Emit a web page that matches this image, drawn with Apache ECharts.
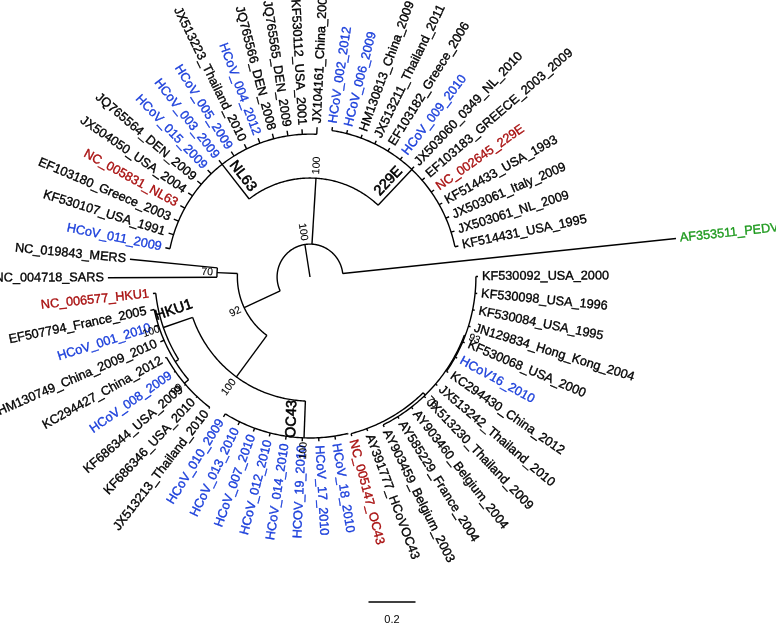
<!DOCTYPE html>
<html>
<head>
<meta charset="utf-8">
<script src="https://cdn.jsdelivr.net/npm/echarts@6/dist/echarts.min.js"></script>
<style>
  html, body { margin: 0; padding: 0; background: #fff; }
  #chart { width: 776px; height: 639px; }
</style>
</head>
<body>
<div id="chart"></div>
<script>
// tips in angular order (counter-clockwise), starting from the outgroup
const leafNames = [
  'AF353511_PEDV',
  'KF514431_USA_1995', 'JX503061_NL_2009', 'JX503061_Italy_2009', 'KF514433_USA_1993',
  'NC_002645_229E', 'EF103183_GREECE_2003_2009', 'JX503060_0349_NL_2010', 'HCoV_009_2010',
  'EF103182_Greece_2006', 'JX513211_Thailand_2011', 'HM130813_China_2009', 'HCoV_006_2009',
  'HCoV_002_2012',
  'JX104161_China_2008', 'KF530112_USA_2001', 'JQ765565_DEN_2009', 'JQ765566_DEN_2008',
  'HCoV_004_2012', 'JX513223_Thailand_2010', 'HCoV_005_2009', 'HCoV_003_2009', 'HCoV_015_2009',
  'JQ765564_DEN_2009', 'JX504050_USA_2004', 'NC_005831_NL63', 'EF103180_Greece_2003',
  'KF530107_USA_1991', 'HCoV_011_2009',
  'NC_019843_MERS', 'NC_004718_SARS',
  'NC_006577_HKU1', 'EF507794_France_2005', 'HCoV_001_2010', 'HM130749_China_2009_2010',
  'KC294427_China_2012', 'HCoV_008_2009', 'KF686344_USA_2009', 'KF686346_USA_2010',
  'JX513213_Thailand_2010',
  'HCoV_010_2009', 'HCoV_013_2010', 'HCoV_007_2010', 'HCoV_012_2010', 'HCoV_014_2010',
  'HCOV_19_2010', 'HCoV_17_2010', 'HCoV_18_2010', 'NC_005147_OC43', 'AY391777_HCoVOC43',
  'AY903459_Belgium_2003', 'AY585229_France_2004', 'AY903460_Belgium_2004',
  'JX513230_Thailand_2009', 'JX513242_Thailand_2010', 'KC294430_China_2012', 'HCoV16_2010',
  'KF530068_USA_2000', 'JN129834_Hong_Kong_2004', 'KF530084_USA_1995', 'KF530098_USA_1996',
  'KF530092_USA_2000'
];
const leafParent = [
  'root',
  'C229E', 'C229E', 'C229E', 'C229E', 'C229E', 'C229E', 'C229E', 'C229E', 'C229E', 'C229E',
  'C229E', 'C229E', 'C229E',
  'CNL63', 'CNL63', 'CNL63', 'CNL63', 'CNL63', 'CNL63', 'CNL63', 'CNL63', 'CNL63', 'CNL63',
  'CNL63', 'CNL63', 'CNL63', 'CNL63', 'CNL63',
  'MS', 'MS',
  'CHKU1', 'H2', 'H2', 'H2', 'H3', 'H3', 'H3', 'H3', 'H3',
  'COC43', 'COC43', 'COC43', 'COC43', 'COC43', 'COC43', 'COC43', 'COC43',
  'O2', 'O2', 'O3', 'O3', 'O3', 'O3', 'O3', 'O4', 'O4', 'O4', 'O4', 'O4', 'O4', 'O4'
];
// distance from root (substitutions/site)
const leafDist = [
  1.566,
  0.645, 0.645, 0.645, 0.645, 0.645, 0.645, 0.645, 0.645, 0.645, 0.645, 0.645, 0.645, 0.645,
  0.638, 0.630, 0.630, 0.630, 0.630, 0.630, 0.630, 0.630, 0.630, 0.630, 0.630, 0.630, 0.630,
  0.630, 0.628,
  0.770, 0.860,
  0.672, 0.694, 0.694, 0.694, 0.706, 0.706, 0.706, 0.706, 0.706,
  0.700, 0.700, 0.700, 0.700, 0.700, 0.700, 0.700, 0.700,
  0.700, 0.700, 0.712, 0.712, 0.712, 0.712, 0.712, 0.715, 0.715, 0.715, 0.715, 0.715, 0.715, 0.715
];

// internal nodes (angle in tip-order units)
const nodeIds     = ['root', 'A', 'C229E', 'CNL63', 'B', 'MS', 'HO', 'CHKU1', 'H2', 'H3', 'COC43', 'O2', 'O3', 'O4'];
const nodeParent  = [null, 'root', 'A', 'A', 'root', 'B', 'B', 'HO', 'CHKU1', 'H2', 'HO', 'COC43', 'O2', 'O3'];
const nodeDist    = [0.140, 0.421, 0.630, 0.608, 0.309, 0.396, 0.528, 0.660, 0.677, 0.700, 0.685, 0.689, 0.702, 0.706];
const nodeAngle   = [16.0, 13.87, 6.98, 21.0, 34.27, 29.5, 39.2, 33.24, 35.5, 36.9, 45.1, 47.8, 53.1, 57.4];
const nodeSupport = [100, 100, null, null, 92, 70, 100, 100, null, 99, 100, null, 76, 93];

const cladeNodes = ['C229E', 'CNL63', 'CHKU1', 'COC43'];
const cladeNames = ['229E', 'NL63', 'HKU1', 'OC43'];

const refGenomes = ['NC_002645_229E', 'NC_005831_NL63', 'NC_006577_HKU1', 'NC_005147_OC43'];
const outgroup = ['AF353511_PEDV'];
const scaleBar = 0.2;

// ---- styles
const FONT = '"Liberation Sans", Arial, Helvetica, sans-serif';
const cladeShift = { C229E: 9, CNL63: -9, CHKU1: -13, COC43: -13 };

function tipColor(name) {
  if (outgroup.includes(name)) return '#1f9a1f';
  if (refGenomes.includes(name)) return '#a80f0f';
  if (/^HCo/i.test(name)) return '#1b3fdb';
  return '#000';
}

// ---- build series data from the tree
const distOf = {}, angleOf = {};
nodeIds.forEach((id, k) => { distOf[id] = nodeDist[k]; angleOf[id] = nodeAngle[k]; });

const childAngles = {};
nodeIds.forEach(id => { childAngles[id] = []; });
leafParent.forEach((p, i) => childAngles[p].push(i));
nodeParent.forEach((p, k) => { if (p) childAngles[p].push(nodeAngle[k]); });

const branchData = [];
leafNames.forEach((n, i) => branchData.push([leafDist[i], i, distOf[leafParent[i]]]));
nodeIds.forEach((id, k) => branchData.push([nodeDist[k], nodeAngle[k], nodeParent[k] ? distOf[nodeParent[k]] : 0]));

const arcData = nodeIds.map((id, k) => [nodeDist[k], Math.min(...childAngles[id]), Math.max(...childAngles[id])]);
const tipData = leafNames.map((n, i) => [leafDist[i], i, n]);
const supportData = [];
nodeIds.forEach((id, k) => { if (nodeSupport[k] != null) supportData.push([nodeDist[k], nodeAngle[k], String(nodeSupport[k])]); });
const cladeData = cladeNodes.map((id, k) => [
  (distOf[nodeParent[nodeIds.indexOf(id)]] + distOf[id]) / 2, angleOf[id], cladeNames[k], id
]);

function radialText(cs, p, text, gap, font, color, centered, shift, weight) {
  const th = Math.atan2(cs.cy - p[1], p[0] - cs.cx);
  const right = Math.cos(th) > -1e-9;
  const s = shift || 0;
  return {
    type: 'text',
    x: p[0] + gap * Math.cos(th) - s * Math.sin(th),
    y: p[1] - gap * Math.sin(th) - s * Math.cos(th),
    rotation: right ? th : th - Math.PI,
    style: {
      text: text, font: font, fill: color,
      stroke: color, lineWidth: weight || 0,
      align: centered ? 'center' : (right ? 'left' : 'right'),
      verticalAlign: 'middle'
    }
  };
}

const chart = echarts.init(document.getElementById('chart'));
chart.setOption({
  animation: false,
  backgroundColor: '#fff',
  polar: { center: [310, 277], radius: 470 },
  radiusAxis: { type: 'value', min: 0, max: 2, show: false },
  angleAxis: { type: 'value', min: 0, max: leafNames.length, startAngle: 6, clockwise: false, show: false },
  series: [
    {
      type: 'custom', coordinateSystem: 'polar', silent: true, data: branchData,
      renderItem: (params, api) => {
        const a = api.coord([api.value(2), api.value(1)]);
        const b = api.coord([api.value(0), api.value(1)]);
        return { type: 'line', shape: { x1: a[0], y1: a[1], x2: b[0], y2: b[1] },
                 style: { stroke: '#000', lineWidth: 1.4 } };
      }
    },
    {
      type: 'custom', coordinateSystem: 'polar', silent: true, data: arcData,
      renderItem: (params, api) => {
        const r = api.value(0), a0 = api.value(1), a1 = api.value(2);
        const n = Math.max(2, Math.ceil((a1 - a0) * 8));
        const pts = [];
        for (let k = 0; k <= n; k++) pts.push(api.coord([r, a0 + (a1 - a0) * k / n]));
        return { type: 'polyline', shape: { points: pts },
                 style: { stroke: '#000', lineWidth: 1.4, fill: 'none' } };
      }
    },
    {
      type: 'custom', coordinateSystem: 'polar', silent: true, data: tipData,
      renderItem: (params, api) => {
        const name = leafNames[params.dataIndex];
        const p = api.coord([api.value(0), api.value(1)]);
        return radialText(params.coordSys, p, name, 4, '12.7px ' + FONT, tipColor(name), false, 0, 0.35);
      }
    },
    {
      type: 'custom', coordinateSystem: 'polar', silent: true, data: supportData,
      renderItem: (params, api) => {
        const p = api.coord([api.value(0), api.value(1)]);
        return radialText(params.coordSys, p, supportData[params.dataIndex][2], 4, '10.5px ' + FONT, '#000', false, 0, 0.1);
      }
    },
    {
      type: 'custom', coordinateSystem: 'polar', silent: true, data: cladeData,
      renderItem: (params, api) => {
        const d = cladeData[params.dataIndex];
        const p = api.coord([api.value(0), api.value(1)]);
        return radialText(params.coordSys, p, d[2], 0, '14.5px ' + FONT, '#000', true, cladeShift[d[3]], 0.6);
      }
    },
    {
      type: 'custom', coordinateSystem: 'polar', silent: true, data: [[scaleBar, 0]],
      renderItem: (params, api) => {
        const p0 = api.coord([0, 0]);
        const p1 = api.coord([api.value(0), 0]);
        const len = Math.hypot(p1[0] - p0[0], p1[1] - p0[1]);
        const cx = 392, y = 602;
        return { type: 'group', children: [
          { type: 'line', shape: { x1: cx - len / 2, y1: y, x2: cx + len / 2, y2: y },
            style: { stroke: '#000', lineWidth: 1.3 } },
          { type: 'text', x: cx, y: y + 18,
            style: { text: String(scaleBar), font: '11px ' + FONT, fill: '#000', align: 'center', verticalAlign: 'middle' } }
        ] };
      }
    }
  ]
});
</script>
</body>
</html>
